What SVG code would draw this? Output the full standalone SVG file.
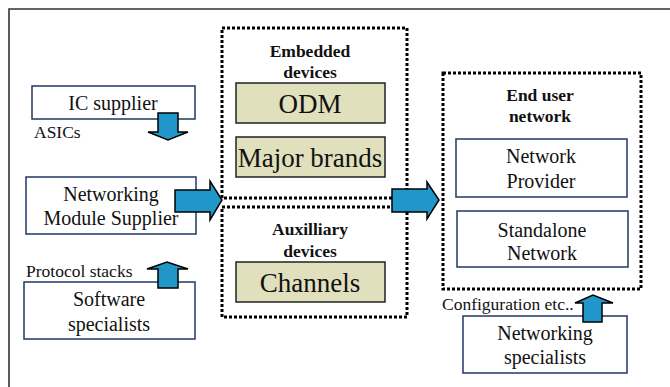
<svg xmlns="http://www.w3.org/2000/svg" width="670" height="387" viewBox="0 0 670 387">
<style>
.frame{fill:none;stroke:#333;stroke-width:1.6}
.box{fill:#fff;stroke:#1f3864;stroke-width:1.5}
.ybox{fill:#e0e0bd;stroke:#222;stroke-width:1.5}
.dot{fill:none;stroke:#000;stroke-width:3;stroke-dasharray:3 2}
.arr{fill:#2196c8;stroke:#000;stroke-width:1.5;stroke-linejoin:miter}
text{fill:#111;text-anchor:middle}
.t19{font-size:20px}
.t26{font-size:27px}
.lbl{font-size:17.5px;text-anchor:start}
.hd{font-size:17.5px;font-weight:bold}
</style>
<path class="frame" d="M9,387 V9 H670"/>
<g font-family="Liberation Serif, Times New Roman, DejaVu Serif, serif">
<g id="ic-supplier"><rect class="box" x="32" y="86" width="163" height="33"/><text class="t19" x="113" y="110">IC supplier</text></g>
<g id="nms"><rect class="box" x="26" y="177" width="170" height="57"/><text class="t19" x="111" y="201">Networking</text><text class="t19" x="111" y="225">Module Supplier</text></g>
<g id="software"><rect class="box" x="24" y="282" width="171" height="57"/><text class="t19" x="109" y="306">Software</text><text class="t19" x="109" y="331">specialists</text></g>
<g id="embedded"><rect class="dot" x="222" y="28" width="185" height="170"/><text class="hd" x="310" y="57">Embedded</text><text class="hd" x="310" y="78">devices</text></g>
<g id="odm"><rect class="ybox" x="236" y="83" width="149" height="40"/><text class="t26" x="310" y="113">ODM</text></g>
<g id="brands"><rect class="ybox" x="236" y="137" width="149" height="40"/><text class="t26" x="310" y="167">Major brands</text></g>
<g id="auxiliary"><rect class="dot" x="222" y="207" width="185" height="110"/><text class="hd" x="310" y="235">Auxilliary</text><text class="hd" x="310" y="257">devices</text></g>
<g id="channels"><rect class="ybox" x="236" y="262" width="149" height="40"/><text class="t26" x="310" y="292">Channels</text></g>
<g id="enduser"><rect class="dot" x="443" y="73" width="198" height="216"/><text class="hd" x="540" y="101">End user</text><text class="hd" x="540" y="122">network</text></g>
<g id="provider"><rect class="box" x="456" y="139" width="171" height="58"/><text class="t19" x="541" y="163">Network</text><text class="t19" x="541" y="188">Provider</text></g>
<g id="standalone"><rect class="box" x="457" y="211" width="171" height="56"/><text class="t19" x="542" y="237">Standalone</text><text class="t19" x="542" y="260">Network</text></g>
<g id="netspec"><rect class="box" x="463" y="316" width="164" height="57"/><text class="t19" x="545" y="340">Networking</text><text class="t19" x="545" y="364">specialists</text></g>
<g id="connectors">
<polygon class="arr" points="158,113 178,113 178,132 188,132 168,140 148,132 158,132"/>
<polygon class="arr" points="175,190 210,190 210,181 222,200 210,220 210,212 175,212"/>
<polygon class="arr" points="158,288 158,269 147,269 167,262 188,269 178,269 178,288"/>
<polygon class="arr" points="392,189 427,189 427,182 439,200 427,219 427,212 392,212"/>
<polygon class="arr" points="583,322 583,303 575,303 593,295 613,303 602,303 602,322"/>
<text class="lbl" x="34" y="138">ASICs</text>
<text class="lbl" x="26" y="277">Protocol stacks</text>
<text class="lbl" x="442" y="310">Configuration etc..</text>
</g>
</g>
</svg>
